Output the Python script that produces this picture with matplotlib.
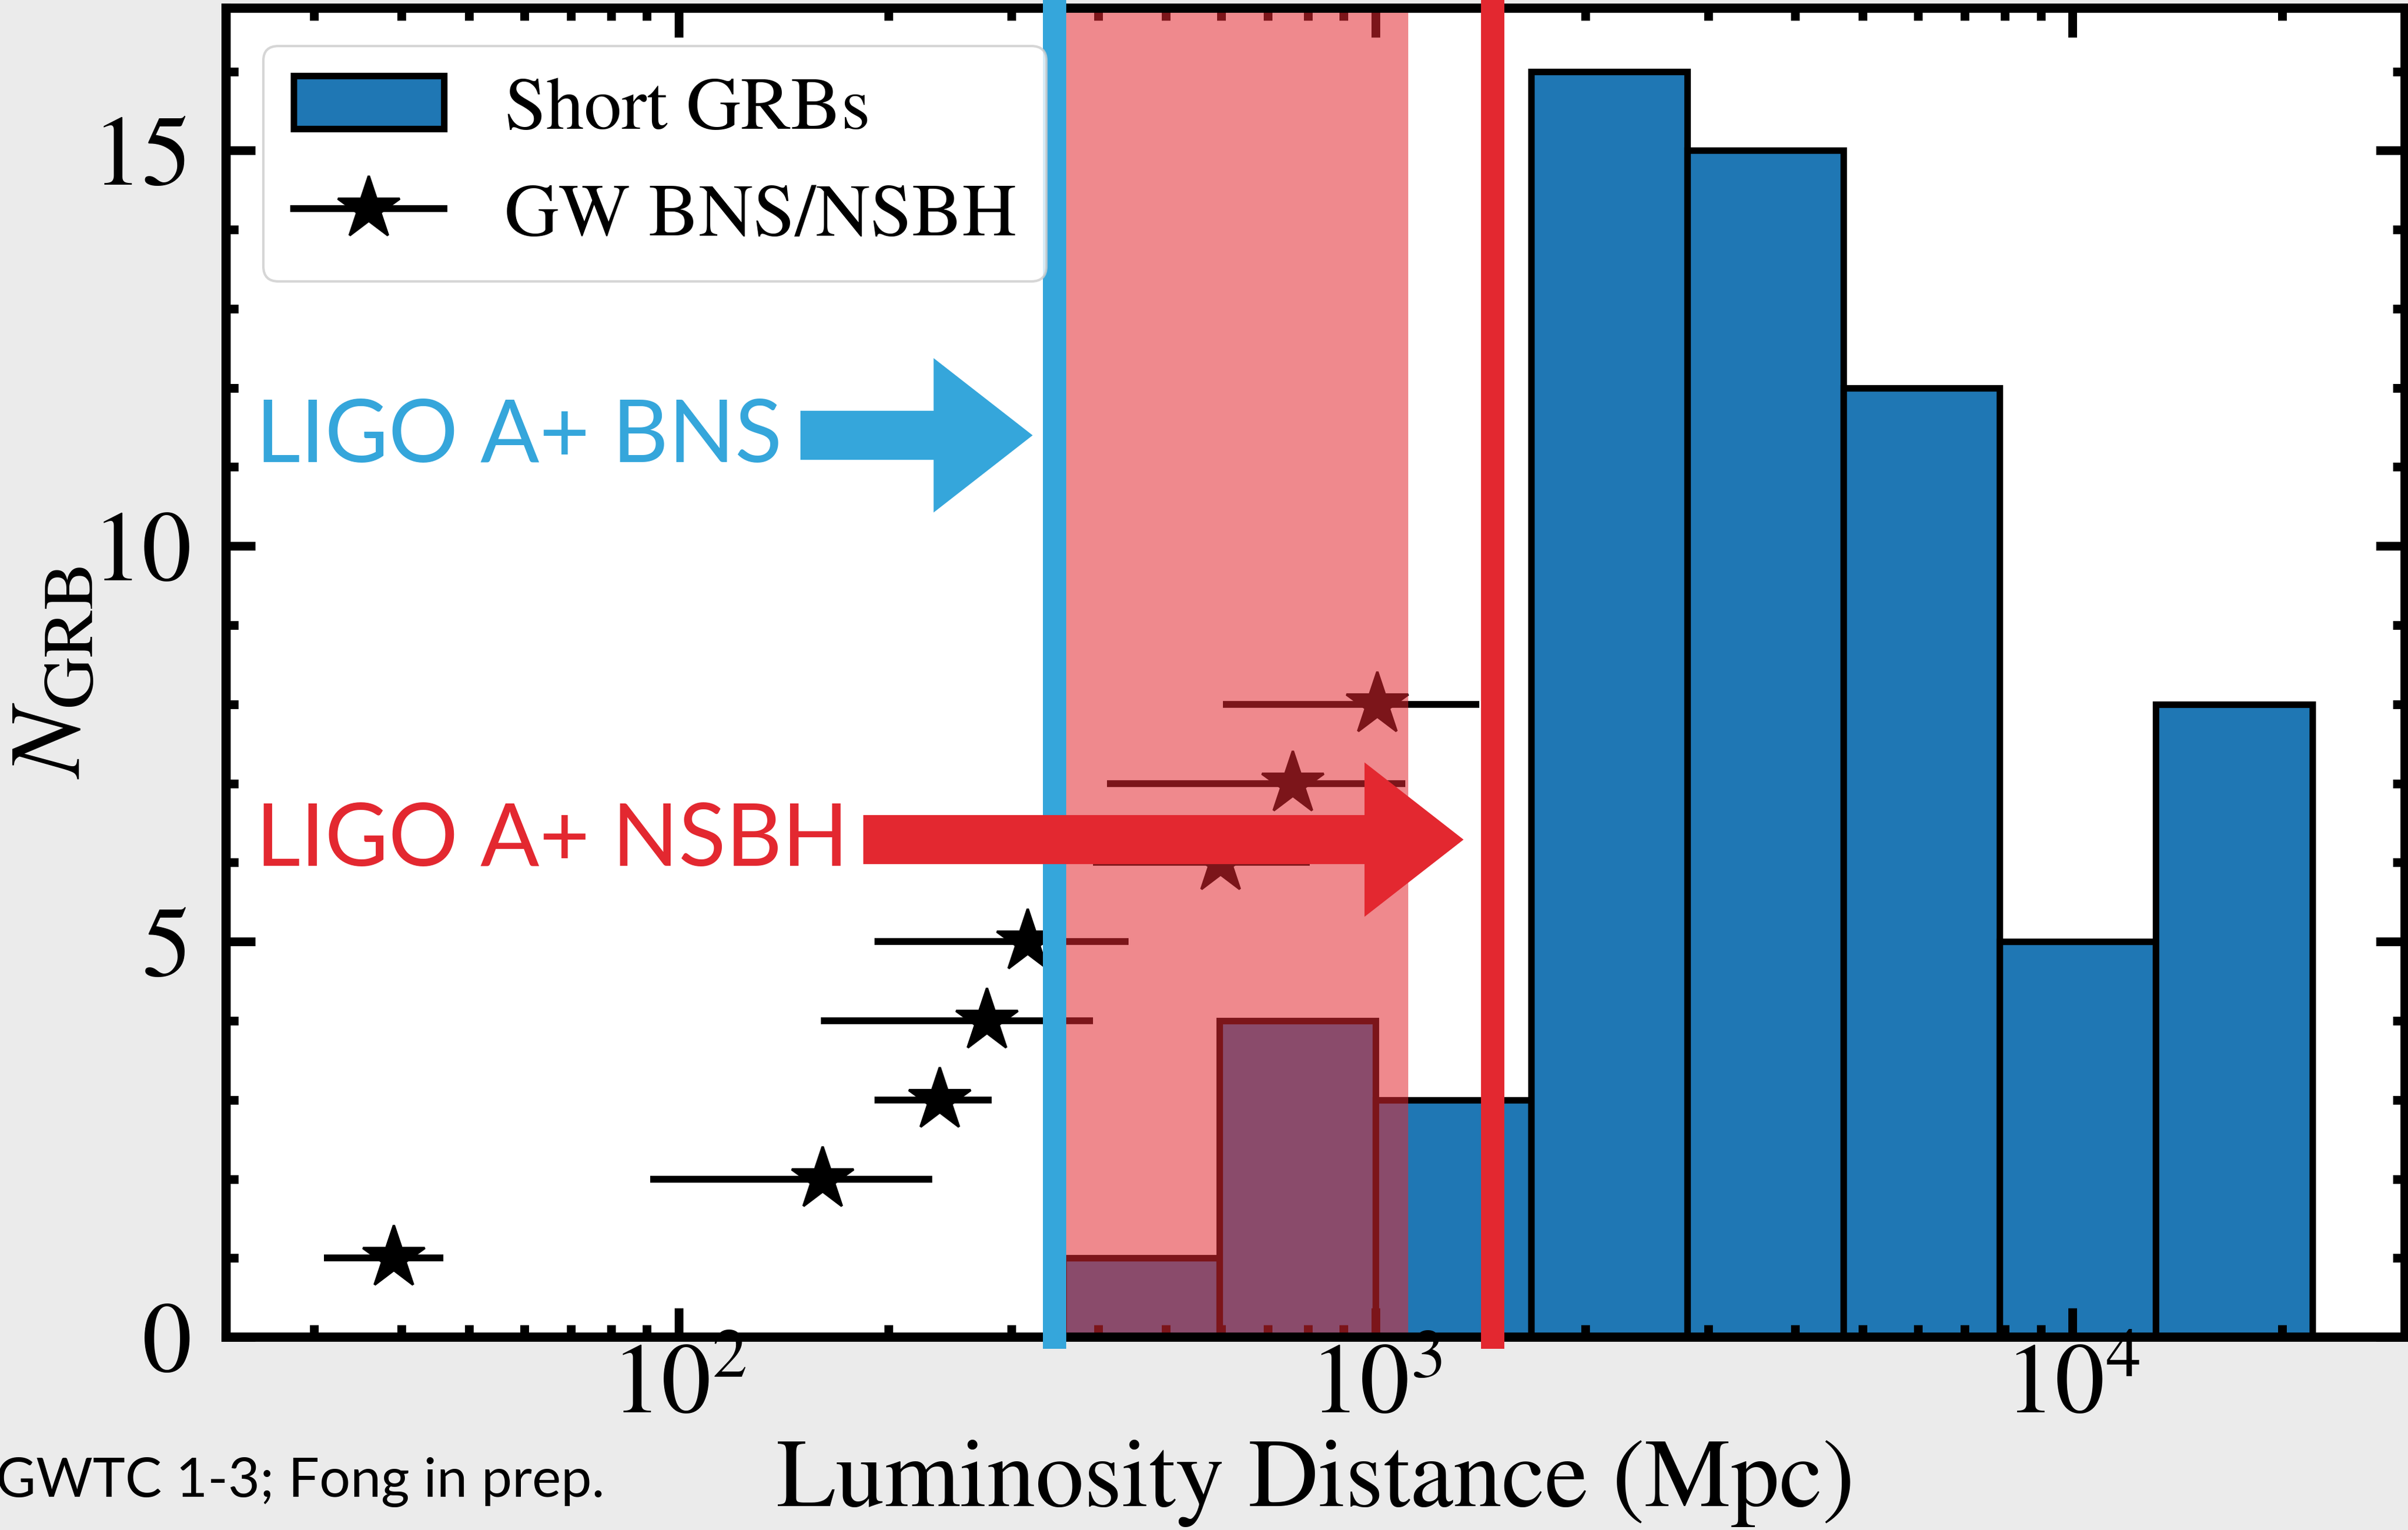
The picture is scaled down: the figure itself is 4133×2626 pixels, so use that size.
import numpy as np
import matplotlib
matplotlib.use("Agg")
import matplotlib.pyplot as plt
from matplotlib.ticker import MultipleLocator
from matplotlib.lines import Line2D
from matplotlib.patches import Patch

plt.rcParams['font.family'] = ['STIXGeneral', 'DejaVu Serif']
plt.rcParams['mathtext.fontset'] = 'stix'

# ---------------- data ----------------
# Short GRB histogram (luminosity distance bins, Mpc)
grb_bin_edges = [356, 597, 1000, 1670, 2800, 4690, 7860, 13170, 22100]
grb_counts = [1, 4, 3, 16, 15, 12, 5, 8]

# GW BNS/NSBH events: distance, lower/upper bounds (Mpc), cumulative index
gw_dist = [39, 161, 237, 277, 317, 599, 760, 1006]
gw_lo = [31, 91, 191, 160, 191, 393, 412, 604]
gw_hi = [46, 231, 281, 393, 442, 804, 1102, 1409]
gw_n = [1, 2, 3, 4, 5, 6, 7, 8]

# LIGO A+ horizons (Mpc)
bns_range = 346
nsbh_range = 1472
shade_range = [346, 1113]

# annotation arrows (Mpc, N)
bns_arrow = [149.5, 322, 11.40]
nsbh_arrow = [184, 1337, 6.29]

BLUE = '#35A6DB'
RED = '#E32830'
GRB_COLOR = '#1f77b4'

fig = plt.figure(figsize=(4133 / 300, 2626 / 300), dpi=300, facecolor='#EBEBEB')
ax = fig.add_axes([0.0938, 0.126, 0.905, 0.8687])
ax.set_facecolor('white')

centers = np.sqrt(np.array(grb_bin_edges[:-1]) * np.array(grb_bin_edges[1:]))
ax.hist(centers, bins=grb_bin_edges, weights=grb_counts, color=GRB_COLOR,
        edgecolor='black', linewidth=2.7, zorder=1)

d = np.array(gw_dist)
ax.errorbar(gw_dist, gw_n, xerr=[d - np.array(gw_lo), np.array(gw_hi) - d],
            fmt='*', color='black', ms=27, elinewidth=2.8, capsize=0, zorder=2)

ax.axvspan(shade_range[0], shade_range[1], color=RED, alpha=0.55, lw=0, zorder=2.2)
ax.axvline(bns_range, color=BLUE, lw=9.6, zorder=3, clip_on=False)
ax.axvline(nsbh_range, color=RED, lw=9.6, zorder=3, clip_on=False)

astyle = 'simple,head_length=2.04,head_width=3.18,tail_width=1.01'
for (x0, x1, yy), col in [(bns_arrow, BLUE), (nsbh_arrow, RED)]:
    ax.annotate('', xy=(x1, yy), xytext=(x0, yy),
                arrowprops=dict(arrowstyle=astyle, mutation_scale=20, fc=col,
                                ec=col, lw=0, shrinkA=0, shrinkB=0), zorder=4)

ax.text(0.0136, 0.6585, 'LIGO A+ BNS', transform=ax.transAxes, color=BLUE,
        fontsize=35.9, family=['Lato', 'DejaVu Sans'], ha='left', va='baseline', zorder=4)
ax.text(0.0136, 0.3549, 'LIGO A+ NSBH', transform=ax.transAxes, color=RED,
        fontsize=35.9, family=['Lato', 'DejaVu Sans'], ha='left', va='baseline', zorder=4)

ax.set_xscale('log')
ax.set_xlim(22.4, 30000)
ax.set_ylim(0, 16.8)
ax.yaxis.set_major_locator(MultipleLocator(5))
ax.yaxis.set_minor_locator(MultipleLocator(1))

for s in ax.spines.values():
    s.set_linewidth(3.8)
ax.tick_params(which='both', direction='in', top=True, right=True, labelsize=41)
ax.tick_params(which='major', length=12, width=3.6)
ax.tick_params(which='minor', length=5, width=3.6)
ax.tick_params(axis='y', pad=14)
ax.tick_params(axis='x', pad=3)

ax.set_xlabel('Luminosity Distance (Mpc)', fontsize=40, labelpad=2)
ax.set_ylabel(r'$N_{\rm GRB}$', fontsize=42, labelpad=-4)

handles = [Patch(facecolor=GRB_COLOR, edgecolor='black', linewidth=2.7),
           Line2D([], [], color='black', marker='*', ms=27, lw=2.8)]
ax.legend(handles, ['Short GRBs', 'GW BNS/NSBH'], loc='upper left', fontsize=31)

fig.text(0.2512, 0.0217, 'GWTC 1-3; Fong in prep.', ha='right', va='baseline',
         fontsize=22.6, family=['Lato', 'DejaVu Sans'], color='black')

fig.savefig('out.png', dpi=300, facecolor=fig.get_facecolor())
